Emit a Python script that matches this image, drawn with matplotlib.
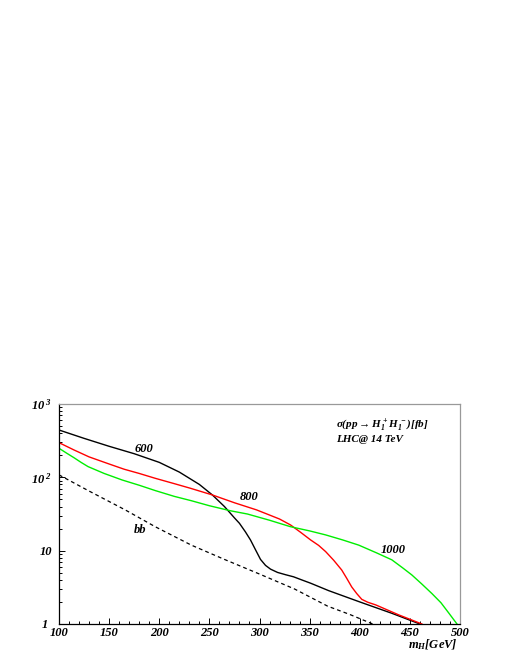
import matplotlib
matplotlib.use('Agg')
import matplotlib.pyplot as plt
import numpy as np
from matplotlib.ticker import FixedLocator, NullFormatter

plt.rcParams['font.family'] = ['Liberation Serif', 'DejaVu Serif']
plt.rcParams['mathtext.fontset'] = 'custom'
plt.rcParams['mathtext.rm'] = 'Liberation Serif:bold:italic'
plt.rcParams['mathtext.it'] = 'Liberation Serif:bold:italic'
plt.rcParams['mathtext.bf'] = 'Liberation Serif:bold:italic'

# sigma(pp -> H1+ H1-) [fb] vs m_H
m600 = [100, 125, 150, 175, 200, 220, 240, 253, 265, 275, 280, 286, 291, 296,
        301, 306, 311, 318, 326, 334, 342, 351, 369, 400, 432, 460]
s600 = [442, 340, 265, 210, 160, 118, 80, 57.5, 40, 28, 23.6, 18, 14, 10.3,
        7.6, 6.3, 5.6, 5.05, 4.7, 4.4, 4.0, 3.6, 2.85, 2.0, 1.4, 1.0]

m800 = [100, 115, 130, 150, 165, 180, 196, 215, 231, 253, 275, 297, 309, 320,
        331, 341, 351, 359, 366, 374, 382, 387, 392, 397, 402, 408, 416, 439, 462]
s800 = [297, 236, 190, 152, 129, 113, 97, 82, 71, 57.5, 45, 36, 31, 27,
        22.4, 17.8, 14, 11.8, 9.7, 7.4, 5.45, 4.2, 3.2, 2.6, 2.17, 1.98, 1.82, 1.33, 1.0]

m1000 = [100, 108, 115, 122, 129, 145, 163, 180, 196, 215, 232, 250, 271, 288, 310, 331,
         350, 366, 383, 399, 417, 432, 443, 452, 462, 472, 481, 489, 497]
s1000 = [249, 212, 185, 160, 140, 113, 92, 78, 66, 55, 48, 41, 35, 31.6, 26, 21.2,
         18.6, 16.4, 14, 11.9, 9.3, 7.5, 5.8, 4.66, 3.5, 2.6, 1.95, 1.4, 1.0]

mbb = [100, 130, 166, 196, 232, 265, 300, 335, 368, 390, 413]
sbb = [108, 65, 36, 21.2, 11.9, 7.6, 4.8, 3.0, 1.75, 1.35, 1.0]

xticks = [100, 150, 200, 250, 300, 350, 400, 450, 500]
yticks = [1, 10, 100, 1000]
ylabels = ['1', '10', r'$10^{\;2}$', r'$10^{\;3}$']

fig = plt.figure(figsize=(5.1, 6.6), dpi=100)
ax = fig.add_axes([59/510, 36/660, 401/510, 220/660])

ax.plot(m600, s600, color='black', lw=1.0)
ax.plot(m800, s800, color='red', lw=1.0)
ax.plot(m1000, s1000, color='#00ee00', lw=1.0)
ax.plot(mbb, sbb, color='black', lw=0.9, ls=(0, (3, 2.5)))

ax.set_yscale('log')
ax.set_xlim(100, 500)
ax.set_ylim(1, 1000)

ax.xaxis.set_major_locator(FixedLocator(xticks))
ax.xaxis.set_minor_locator(FixedLocator(np.arange(100, 501, 10)))
ax.set_xticklabels([str(t) for t in xticks], fontsize=9, fontweight='bold', fontstyle='italic')
ax.yaxis.set_major_locator(FixedLocator(yticks))
minors = [k * d for d in (1, 10, 100) for k in range(2, 10)]
ax.yaxis.set_minor_locator(FixedLocator(minors))
ax.yaxis.set_minor_formatter(NullFormatter())
ax.set_yticklabels(ylabels, fontsize=9, fontweight='bold', fontstyle='italic')

ax.tick_params(which='both', direction='in', top=False, right=False, width=0.7)
ax.tick_params(which='major', length=4)
ax.tick_params(which='minor', length=2.2)
ax.tick_params(axis='x', pad=2.5)
ax.tick_params(axis='y', pad=5)
# the "1" label sits a bit further left, clear of "100"
ax.yaxis.get_major_ticks()[0].set_pad(8)

for s in ['top', 'right']:
    ax.spines[s].set_color('#999999')
    ax.spines[s].set_linewidth(0.9)
for s in ['left', 'bottom']:
    ax.spines[s].set_linewidth(0.9)

lab = dict(fontsize=9, fontweight='bold', fontstyle='italic', ha='center', va='center')
ax.text(185, 243, '600', **lab)
ax.text(290, 54, '800', **lab)
ax.text(433, 10.2, '1000', **lab)
ax.text(181, 19, 'bb', **lab)

ax.text(0.69, 0.905, r'$\sigma(pp\rightarrow H_1^{\,+}H_1^{\,-})[fb]$', transform=ax.transAxes,
        fontsize=8, va='center', ha='left')
ax.text(0.69, 0.84, 'LHC@ 14 TeV', transform=ax.transAxes, fontsize=8,
        fontweight='bold', fontstyle='italic', va='center', ha='left')

ax.text(0.995, -0.095, r'$m_H[GeV]$', transform=ax.transAxes, fontsize=9,
        ha='right', va='center')

fig.savefig('out.png', dpi=100)
